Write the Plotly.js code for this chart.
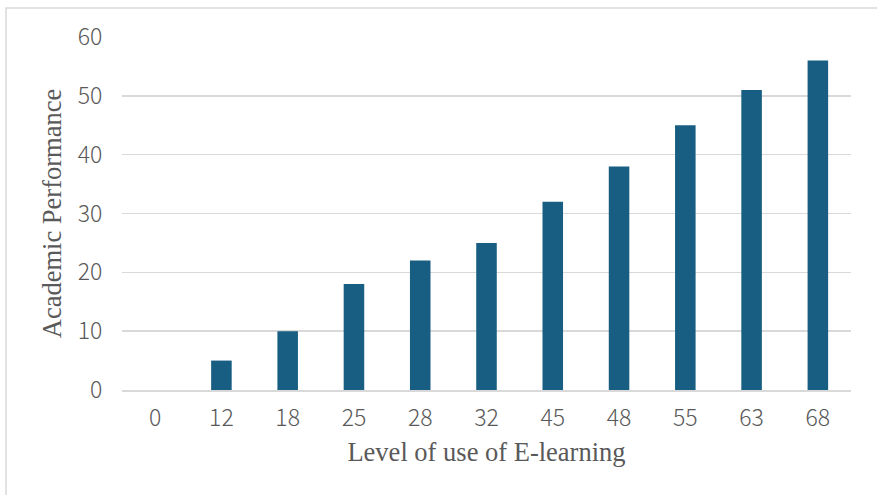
<!DOCTYPE html>
<html>
<head>
<meta charset="utf-8">
<script src="https://cdn.plot.ly/plotly-3.0.1.min.js"></script>
<style>html,body{margin:0;padding:0;background:#fff;}#chart{width:877px;height:495px;}</style>
</head>
<body>
<div id="chart"></div>
<script>
const categories = ["0","12","18","25","28","32","45","48","55","63","68"];
const performance = [0,5,10,18,22,25,32,38,45,51,56];
const yTicks = [0,10,20,30,40,50,60];
const xTitle = "Level of use of E-learning";
const yTitle = "Academic Performance";

const tickFont = {family: "Noto Sans CJK SC", size: 23, color: "#595959", weight: 300};
const titleFont = {family: "Liberation Serif, Times New Roman, serif", size: 26.5, color: "#595959"};

Plotly.newPlot("chart", [{
  type: "bar",
  x: categories,
  y: performance,
  marker: {color: "#175E82"},
  hoverinfo: "x+y"
}], {
  width: 877, height: 495,
  margin: {l: 122, r: 26, t: 37, b: 105},
  paper_bgcolor: "#fff", plot_bgcolor: "#fff",
  bargap: 0.69,
  showlegend: false,
  xaxis: {
    type: "category",
    tickfont: tickFont,
    showgrid: false, zeroline: false,
    showline: true, linecolor: "#D9D9D9", linewidth: 1.5,
    ticks: "outside", ticklen: 7, tickcolor: "rgba(0,0,0,0)",
    title: {text: xTitle, font: titleFont, standoff: 10}
  },
  yaxis: {
    range: [0, 60], tickvals: yTicks,
    tickfont: tickFont,
    gridcolor: "#D9D9D9", gridwidth: 1.5,
    zeroline: false, showline: false,
    ticks: "outside", ticklen: 14, tickcolor: "rgba(0,0,0,0)",
    title: {text: yTitle, font: titleFont, standoff: 8}
  },
  shapes: [{
    type: "rect", xref: "paper", yref: "paper",
    x0: -116/729, x1: 1.2, y0: -0.5, y1: 1 + 29/353,
    line: {color: "#D9D9D9", width: 1.5}, fillcolor: "rgba(0,0,0,0)"
  }]
}, {displayModeBar: false, staticPlot: true});
</script>
</body>
</html>
